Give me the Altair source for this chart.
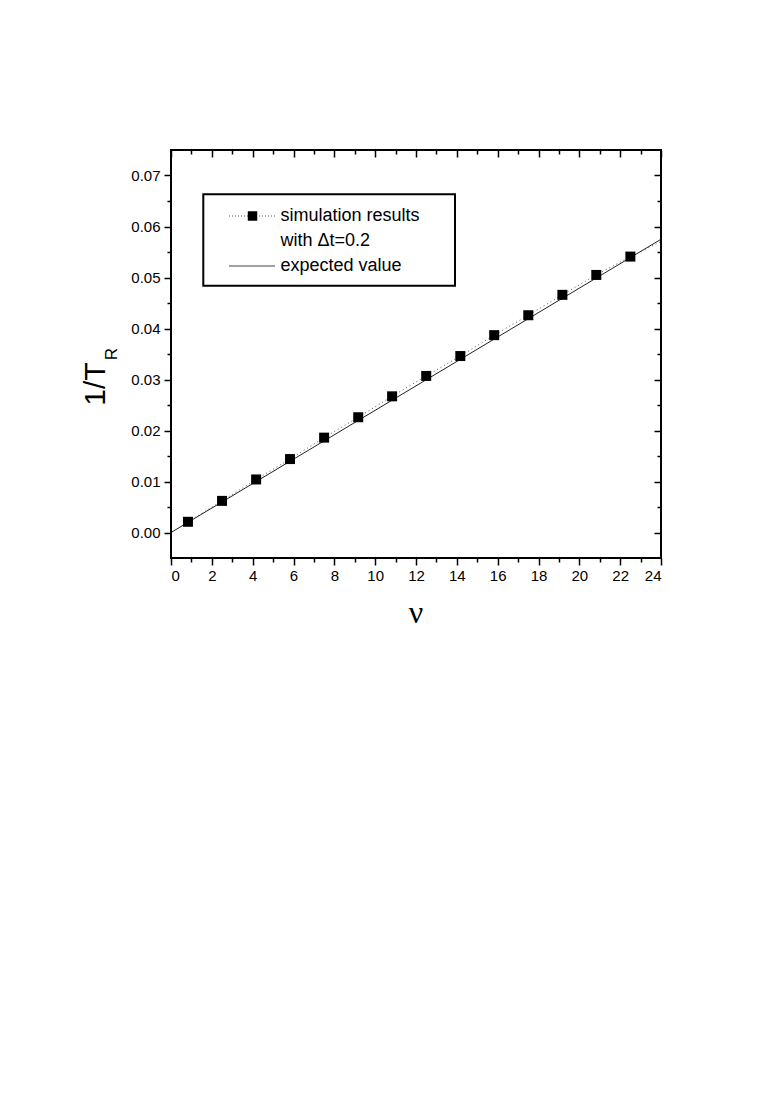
import altair as alt
import pandas as pd

# simulation results (nu, 1/T_R)
nu_sim = [0.83, 2.5, 4.17, 5.83, 7.5, 9.17, 10.83, 12.5, 14.17, 15.83, 17.5, 19.17, 20.83, 22.5]
inv_tr_sim = [0.0021, 0.0062, 0.0104, 0.0144, 0.0186, 0.0226, 0.0267, 0.0307, 0.0346, 0.0387,
              0.0426, 0.0466, 0.0505, 0.0541]
# the dotted connecting line continues to a point just beyond the frame
nu_dot_extra = [24.17]
inv_tr_dot_extra = [0.0574]
# expected value line
nu_exp = [0.0, 24.0]
inv_tr_exp = [0.0, 0.0575]

x_major = [0, 2, 4, 6, 8, 10, 12, 14, 16, 18, 20, 22, 24]
x_minor = [1, 3, 5, 7, 9, 11, 13, 15, 17, 19, 21, 23]
y_major = [0.00, 0.01, 0.02, 0.03, 0.04, 0.05, 0.06, 0.07]
y_minor = [0.005, 0.015, 0.025, 0.035, 0.045, 0.055, 0.065]

legend_labels = ["simulation results", "with \u0394t=0.2", "expected value"]

W, H = 490, 408

sim_df = pd.DataFrame({"nu": nu_sim, "inv": inv_tr_sim})
dot_df = pd.DataFrame({"nu": nu_sim + nu_dot_extra, "inv": inv_tr_sim + inv_tr_dot_extra})
exp_df = pd.DataFrame({"nu": nu_exp, "inv": inv_tr_exp})
one = pd.DataFrame({"a": [0]})

xs = alt.Scale(domain=[0, 24], nice=False, zero=False)
ys = alt.Scale(domain=[-0.005, 0.075], nice=False, zero=False)


def xenc(axis):
    return alt.X("nu:Q", scale=xs, axis=axis)


def yenc(axis):
    return alt.Y("inv:Q", scale=ys, axis=axis)


common = dict(domain=False, grid=False, title=None, tickColor="black", tickWidth=1.5)

ax_bottom_major = alt.Axis(orient="bottom", values=x_major, tickSize=7, labelPadding=3,
                           labelFontSize=15, labelFont="Liberation Sans", labelColor="black",
                           format="d", **common)
ax_left_major = alt.Axis(orient="left", values=y_major, tickSize=7, labelPadding=4,
                         labelFontSize=15, labelFont="Liberation Sans", labelColor="black",
                         format=".2f", **common)
ax_bottom_minor = alt.Axis(orient="bottom", values=x_minor, tickSize=4, labels=False, **common)
ax_left_minor = alt.Axis(orient="left", values=y_minor, tickSize=4, labels=False, **common)
ax_top_major = alt.Axis(orient="top", values=x_major, tickSize=7, offset=-7, labels=False, **common)
ax_right_major = alt.Axis(orient="right", values=y_major, tickSize=7, offset=-7, labels=False, **common)
ax_top_minor = alt.Axis(orient="top", values=x_minor, tickSize=4, offset=-4, labels=False, **common)
ax_right_minor = alt.Axis(orient="right", values=y_minor, tickSize=4, offset=-4, labels=False, **common)

expected = alt.Chart(exp_df).mark_line(color="#222222", strokeWidth=1, clip=True).encode(
    x=xenc(ax_bottom_major), y=yenc(ax_left_major))

dotted = alt.Chart(dot_df).mark_line(color="#555555", strokeWidth=1, strokeDash=[1, 3], clip=True).encode(
    x=xenc(ax_bottom_minor), y=yenc(ax_left_minor))

squares = alt.Chart(sim_df).mark_square(color="black", size=100, opacity=1, clip=True).encode(
    x=xenc(ax_top_major), y=yenc(ax_right_major))

ghost = alt.Chart(exp_df).mark_line(strokeOpacity=0, clip=True).encode(
    x=xenc(ax_top_minor), y=yenc(ax_right_minor))

# plot frame
frame = alt.Chart(one).mark_rect(fill=None, fillOpacity=0, stroke="black", strokeWidth=2).encode(
    x=alt.value(0), x2=alt.value(W), y=alt.value(0), y2=alt.value(H))

# legend
box = alt.Chart(one).mark_rect(fill="white", stroke="black", strokeWidth=2).encode(
    x=alt.value(32.3), x2=alt.value(284), y=alt.value(44.3), y2=alt.value(135.7))
leg_dot = alt.Chart(one).mark_rule(color="#555555", strokeWidth=1, strokeDash=[1, 2]).encode(
    x=alt.value(58), x2=alt.value(104), y=alt.value(66))
leg_sq = alt.Chart(one).mark_square(color="black", size=90, opacity=1).encode(
    x=alt.value(81.5), y=alt.value(66))
leg_line = alt.Chart(one).mark_rule(color="#444444", strokeWidth=1).encode(
    x=alt.value(58), x2=alt.value(104), y=alt.value(116))

leg_texts = []
for lbl, yb in zip(legend_labels, [71, 95.5, 120.5]):
    leg_texts.append(
        alt.Chart(one).mark_text(text=lbl, align="left", baseline="alphabetic", fontSize=18,
                                 font="Liberation Sans", color="black").encode(
            x=alt.value(109.5), y=alt.value(yb)))

# axis titles
ytitle = alt.Chart(one).mark_text(text="1/T", angle=270, align="center", baseline="middle",
                                  fontSize=30, font="Liberation Sans", color="black").encode(
    x=alt.value(-75), y=alt.value(234))
ysub = alt.Chart(one).mark_text(text="R", angle=270, align="center", baseline="middle",
                                fontSize=17, font="Liberation Sans", color="black").encode(
    x=alt.value(-59.5), y=alt.value(204))
xtitle = alt.Chart(one).mark_text(text="\u03bd", align="center", baseline="alphabetic",
                                  fontSize=32, font="Liberation Serif", color="black").encode(
    x=alt.value(245), y=alt.value(473))

chart = alt.layer(
    expected, dotted, squares, ghost, frame, box, leg_dot, leg_sq, leg_line, *leg_texts,
    ytitle, ysub, xtitle
).resolve_axis(x="independent", y="independent").properties(
    width=W, height=H,
    autosize="none",
    padding={"left": 163, "top": 142, "right": 100, "bottom": 500},
).configure_view(stroke=None).configure(background="white")

chart.save("out.html", embed_options={"renderer": "svg", "actions": False})
